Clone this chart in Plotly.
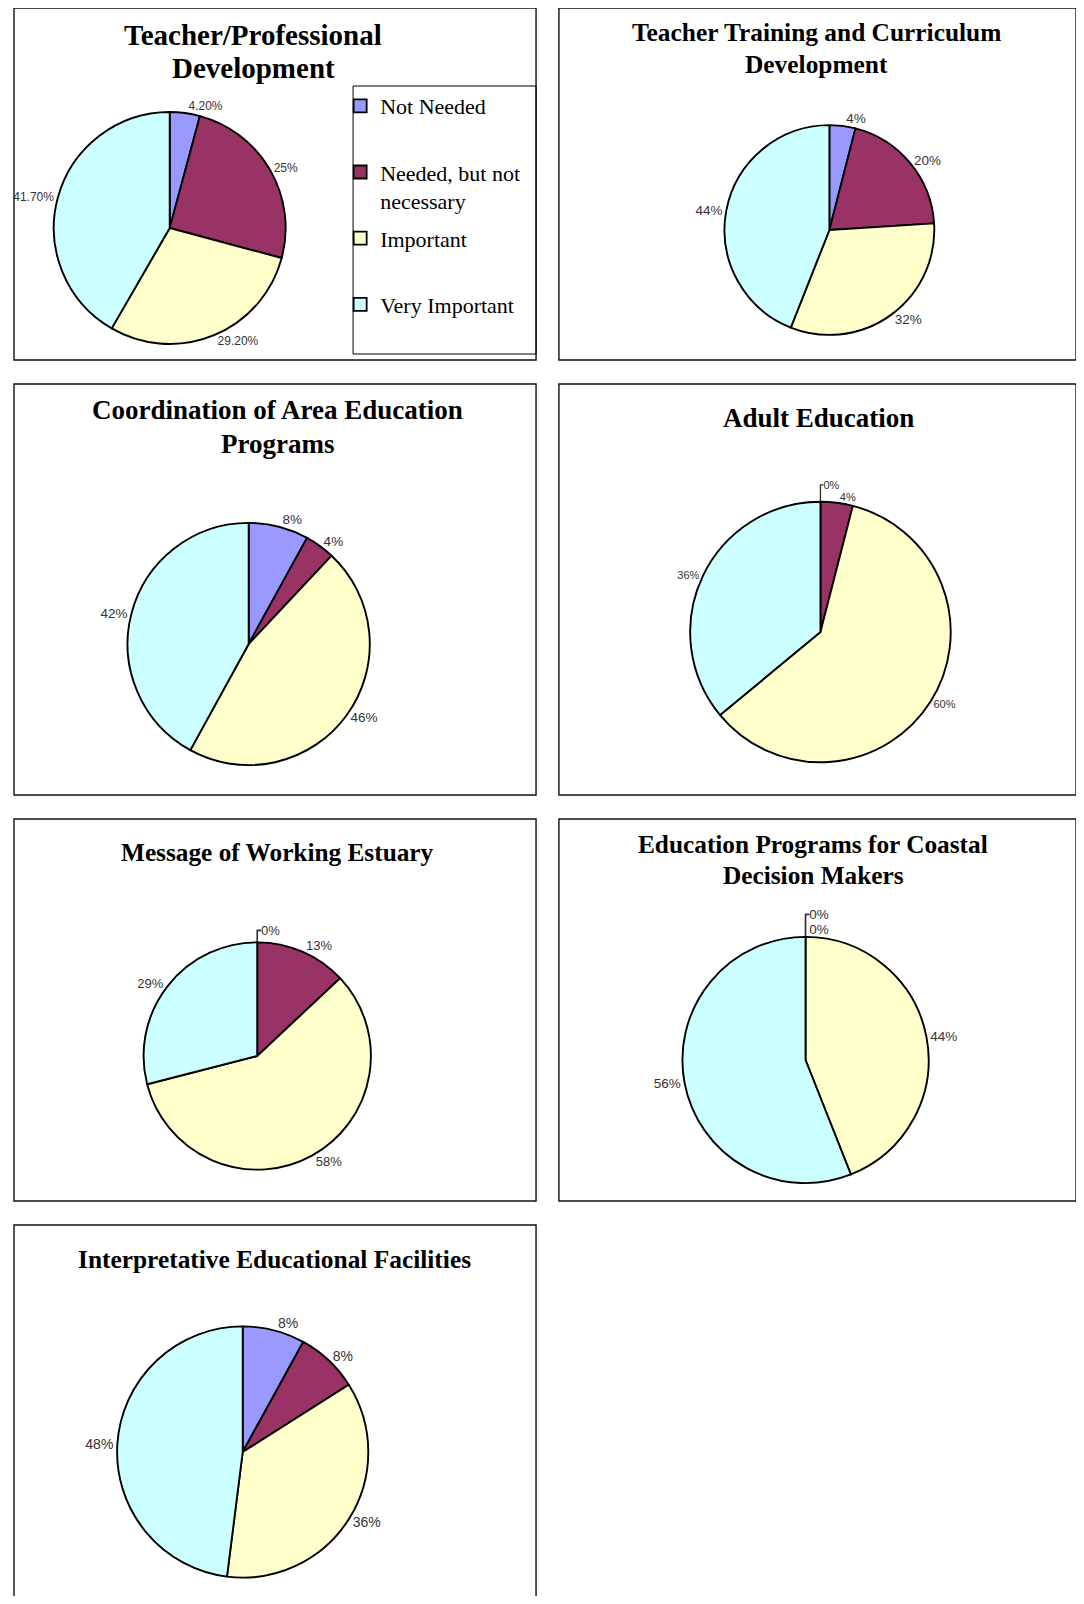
import plotly.graph_objects as go

# ---------------- data ----------------
categories = ["Not Needed", "Needed, but not necessary", "Important", "Very Important"]
legend_names = ["Not Needed<br>&nbsp;", "Needed, but not<br>necessary", "Important<br>&nbsp;", "Very Important<br>&nbsp;"]
colors = ["#9999FF", "#993366", "#FFFFCC", "#CCFFFF"]

teacher_prof_vals = [4.2, 25, 29.2, 41.7]
teacher_prof_text = ["4.20%", "25%", "29.20%", "41.70%"]

teacher_train_vals = [4, 20, 32, 44]
coord_vals = [8, 4, 46, 42]
adult_vals = [0, 4, 60, 36]
message_vals = [0, 13, 58, 29]
coastal_vals = [0, 0, 44, 56]
interp_vals = [8, 8, 36, 48]

titles = [
    ["Teacher/Professional", "Development"],
    ["Teacher Training and Curriculum", "Development"],
    ["Coordination of Area Education", "Programs"],
    ["Adult Education"],
    ["Message of Working Estuary"],
    ["Education Programs for Coastal", "Decision Makers"],
    ["Interpretative Educational Facilities"],
]

# ---------------- layout geometry (page pixels) ----------------
OFF = 8  # default page margin of the html body
W, H = 1084 - 2 * OFF, 1604 - 2 * OFF
panels = [  # x0, x1, y0, y1
    (8, 533, 8, 360),
    (556, 1076, 8, 360),
    (8, 533, 384, 795),
    (556, 1076, 384, 795),
    (8, 533, 819, 1201),
    (556, 1076, 819, 1201),
    (8, 533, 1225, 1640),
]
pie_geom = [  # cx, cy, r
    (164.6, 228, 116.6),
    (828, 230, 105.5),
    (244, 644, 121.8),
    (819, 632, 131),
    (252.6, 1056, 114.3),
    (804, 1060, 123.8),
    (238, 1452, 126.3),
]
title_geom = [  # cx, first-line y, line spacing, font size
    (248.5, 35, 33, 29),
    (815, 32, 32.5, 25.4),
    (273, 410, 34, 27),
    (817, 418, 0, 27),
    (273, 852, 0, 25.3),
    (812, 844, 31, 25.3),
    (270, 1259, 0, 25.4),
]
label_sizes = [12, 13.5, 13.5, 11, 13, 13.5, 14]

def px(x):
    return (x - OFF) / W

def py(y):
    return 1 - (y - OFF) / H

def pct_text(vals):
    return ["%g%%" % v for v in vals]

series = [
    (teacher_prof_vals, teacher_prof_text),
    (teacher_train_vals, pct_text(teacher_train_vals)),
    (coord_vals, pct_text(coord_vals)),
    (adult_vals, pct_text(adult_vals)),
    (message_vals, pct_text(message_vals)),
    (coastal_vals, pct_text(coastal_vals)),
    (interp_vals, pct_text(interp_vals)),
]

fig = go.Figure()
for (vals, txt), fs, (cx, cy, r) in zip(series, label_sizes, pie_geom):
    fig.add_trace(go.Pie(
        labels=categories,
        values=vals,
        text=txt,
        textinfo="text",
        textposition="outside",
        textfont=dict(family="Liberation Sans", size=fs, color="#333333"),
        sort=False,
        direction="clockwise",
        rotation=0,
        marker=dict(colors=colors, line=dict(color="#000000", width=1.9)),
        showlegend=False,
        hoverinfo="label+percent",
        domain=dict(x=[px(cx - r), px(cx + r)], y=[py(cy + r), py(cy - r)]),
    ))

# legend entries (one per category)
for name, col, cat in zip(legend_names, colors, categories):
    fig.add_trace(go.Scatter(
        x=[None], y=[None], mode="markers", name=name, legendgroup=cat,
        marker=dict(symbol="square", size=13, color=col, line=dict(color="#000000", width=1.8)),
        hoverinfo="skip",
    ))

shapes = []
for (x0, x1, y0, y1) in panels:
    shapes.append(dict(type="rect", xref="paper", yref="paper",
                       x0=px(x0), x1=px(x1), y0=py(y1), y1=py(y0),
                       line=dict(color="#111111", width=1.4), fillcolor="rgba(0,0,0,0)"))
# legend frame of the first chart
shapes.append(dict(type="rect", xref="paper", yref="paper",
                   x0=px(349), x1=px(533), y0=py(354), y1=py(86),
                   line=dict(color="#000000", width=1), fillcolor="rgba(0,0,0,0)"))

annotations = []
for lines, (cx, ty, sp, fsz) in zip(titles, title_geom):
    for k, line in enumerate(lines):
        annotations.append(dict(
            text="<b>%s</b>" % line, xref="paper", yref="paper",
            x=px(cx), y=py(ty + k * sp), xanchor="center", yanchor="middle",
            showarrow=False,
            font=dict(family="Liberation Serif", size=fsz, color="#000000"),
        ))

fig.update_layout(
    width=W, height=H,
    margin=dict(l=0, r=0, t=0, b=0),
    paper_bgcolor="white", plot_bgcolor="rgba(0,0,0,0)",
    xaxis=dict(visible=False), yaxis=dict(visible=False),
    shapes=shapes, annotations=annotations,
    legend=dict(
        x=px(336), y=py(85), xanchor="left", yanchor="top",
        borderwidth=0, bgcolor="rgba(0,0,0,0)",
        font=dict(family="Liberation Serif", size=22, color="#000000"),
        valign="top", tracegroupgap=6,
    ),
)

fig.write_html("out.html")
